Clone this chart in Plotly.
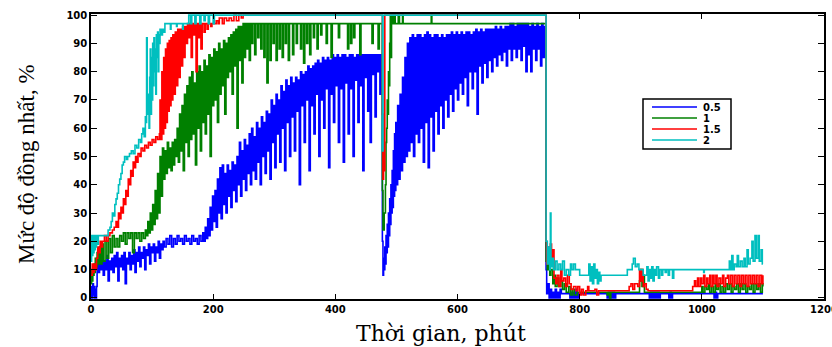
import plotly.graph_objects as go

# ---- data: (minute, %) pairs, step-wise ----
series_names = ["0.5", "1", "1.5", "2"]
series_colors = ["#0000FF", "#008000", "#FF0000", "#00BFBF"]

pts_05 = [
    (0,0),(1,4),(2,0),(3,5),(4,1),(5,4),(6,0),(7,3),(8,0),(9,4),(10,12),(12,9),(14,13),(16,10),(18,14),(20,8),
    (22,13),(24,10),(26,15),(28,6),(30,13),(32,10),(34,14),(36,9),(38,15),(40,11),(42,16),(44,6),(46,14),(48,11),
    (50,15),(52,10),(54,16),(56,5),(58,14),(60,12),(62,16),(64,10),(66,15),(68,12),(70,17),(72,9),(74,16),(76,13),
    (78,18),(80,11),(82,16),(84,14),(86,18),(88,10),(90,17),(92,15),(94,19),(96,12),(98,18),(100,16),(102,19),
    (104,13),(106,18),(108,16),(110,20),(112,14),(114,19),(116,17),(118,20),(120,18),(123,21),(126,19),(129,22),
    (132,18),(135,21),(138,19),(141,22),(144,20),(147,21),(150,19),(153,22),(156,20),(159,21),(162,19),(165,22),
    (168,20),(171,21),(174,19),(177,22),(180,20),(183,23),(185,20),(187,25),(189,21),(191,28),(193,22),(195,32),
    (197,24),(199,36),(201,27),(203,38),(205,25),(207,42),(209,30),(211,46),(213,28),(215,47),(217,33),(219,44),
    (221,30),(223,47),(225,36),(227,45),(229,32),(231,48),(233,38),(235,47),(237,34),(239,50),(241,40),(243,55),
    (245,36),(247,52),(249,42),(251,56),(253,38),(255,54),(257,44),(259,58),(261,40),(263,60),(265,45),(267,57),
    (269,42),(271,62),(273,48),(275,60),(277,40),(279,64),(281,50),(283,62),(285,44),(287,66),(289,52),(291,65),
    (293,42),(295,70),(297,55),(299,68),(301,46),(303,72),(305,58),(307,70),(309,48),(311,75),(313,60),(315,73),
    (317,45),(319,77),(321,62),(323,75),(325,50),(327,78),(329,64),(331,76),(333,52),(335,78),(337,66),(339,77),
    (341,40),(343,80),(345,68),(347,79),(349,55),(351,80),(353,70),(355,82),(357,45),(359,81),(361,68),(363,82),
    (365,58),(367,83),(369,72),(371,84),(373,50),(375,83),(377,70),(379,85),(381,60),(383,84),(385,74),(387,85),
    (389,46),(391,84),(393,72),(395,86),(397,62),(399,85),(401,75),(403,86),(405,55),(407,85),(409,74),(411,86),
    (413,48),(415,86),(417,76),(419,85),(421,58),(423,86),(425,74),(427,86),(429,50),(431,85),(433,77),(435,86),
    (437,62),(439,86),(441,75),(443,86),(445,45),(447,86),(449,78),(451,86),(453,66),(455,86),(457,55),(459,86),
    (461,79),(463,86),(465,64),(467,86),(469,80),(471,86),(473,72),(475,86),(477,20),(478,8),(479,14),(480,10),
    (481,18),(482,12),(483,22),(484,16),(485,26),(486,18),(487,30),(488,22),(489,35),(490,26),(491,40),(492,30),
    (493,45),(494,32),(495,52),(496,36),(497,58),(498,38),(499,62),(500,40),(502,68),(504,42),(506,72),(508,45),
    (510,78),(512,48),(514,85),(516,50),(518,90),(520,52),(522,92),(524,55),(526,93),(528,50),(530,92),(532,58),
    (534,93),(536,55),(538,93),(540,60),(542,92),(544,48),(546,93),(548,62),(550,94),(552,46),(554,93),(556,64),
    (558,92),(560,52),(562,93),(564,66),(566,93),(568,58),(570,92),(572,68),(574,93),(576,60),(578,92),(580,70),
    (582,93),(584,64),(586,93),(588,72),(590,94),(592,66),(594,93),(596,74),(598,94),(600,70),(602,93),(604,76),
    (606,94),(608,72),(610,93),(612,78),(614,94),(616,68),(618,94),(620,80),(622,93),(624,74),(626,94),(628,80),
    (630,95),(632,65),(634,94),(636,82),(638,95),(640,76),(642,94),(644,83),(646,95),(648,78),(650,95),(652,84),
    (654,95),(656,80),(658,95),(660,85),(662,96),(664,82),(666,95),(668,86),(670,96),(672,84),(674,95),(676,87),
    (678,96),(680,82),(682,96),(684,88),(686,97),(688,84),(690,97),(692,88),(694,96),(696,85),(698,97),(700,88),
    (702,97),(704,84),(706,97),(708,89),(710,97),(712,80),(714,97),(716,86),(718,96),(720,80),(722,97),(724,88),
    (726,96),(728,84),(730,97),(732,88),(734,96),(736,82),(738,97),(740,85),(742,96),(744,90),
    (745,10),(746,1.5),(748,5),(750,0),(752,3),(754,0),(756,2),(758,0),(760,3),(762,0),(764,2),(766,0),(768,3),
    (770,1.5),(784,0),(786,2),(788,0),(790,2),(792,0),(794,3),(796,0),(798,1.5),(845,0),(847,2),(849,0),(851,2),
    (853,0),(855,2),(857,0),(859,1.5),(914,0),(916,2),(918,0),(920,2),(922,0),(924,2),(926,0),(928,2),(930,0),
    (932,1.5),(946,0),(948,2),(950,0),(952,1.5),(1020,0),(1022,2),(1024,0),(1026,1.5),(1100,1.5),
]

pts_1 = [
    (0,5),(1,10),(2,6),(3,11),(4,8),(5,12),(6,9),(7,14),(8,11),(10,16),(12,12),(14,18),(16,12),(18,19),(20,13),
    (23,20),(26,14),(29,21),(32,16),(35,22),(38,18),(41,21),(44,18),(47,22),(50,20),(53,23),(56,19),(59,23),
    (62,21),(65,23),(68,16),(71,23),(74,21),(77,23),(80,20),(83,23),(86,21),(89,24),(91,22),(93,27),(95,23),
    (97,30),(99,24),(101,33),(103,26),(105,38),(107,28),(109,44),(111,30),(113,50),(115,36),(117,53),(119,42),
    (121,52),(123,44),(125,55),(127,46),(129,53),(131,45),(133,55),(135,47),(137,56),(139,50),(141,60),(143,48),
    (145,65),(147,52),(149,68),(151,45),(153,72),(155,55),(157,75),(159,50),(161,78),(163,56),(165,80),(167,58),
    (169,76),(171,47),(173,80),(175,60),(177,82),(179,52),(181,80),(183,62),(185,84),(187,58),(189,82),(191,65),
    (193,86),(195,50),(197,85),(199,68),(201,88),(203,70),(205,87),(207,62),(209,90),(211,72),(213,88),(215,75),
    (217,91),(219,65),(221,90),(223,78),(225,92),(227,80),(229,93),(231,72),(233,94),(235,82),(237,95),(239,60),
    (241,96),(243,84),(245,96),(247,76),(249,97),(251,85),(253,97),(255,88),(257,97),(259,84),(261,97),(263,90),
    (265,97),(268,86),(270,97),(273,92),(275,97),(278,88),(280,97),(283,85),(285,97),(288,76),(290,97),(293,84),
    (295,97),(298,90),(300,97),(303,84),(305,97),(308,88),(310,97),(313,85),(315,97),(318,90),(320,97),(323,84),
    (325,97),(330,86),(332,97),(336,90),(338,97),(343,88),(345,97),(348,83),(350,97),(353,90),(355,97),(358,86),
    (360,97),(364,92),(366,97),(370,88),(372,97),(376,93),(378,97),(385,90),(387,97),(393,85),(395,97),(405,92),
    (407,97),(420,88),(422,97),(425,90),(427,97),(430,92),(432,97),(440,86),(442,97),(460,90),(462,97),(470,88),
    (472,97),(477,38),(478,24),(480,30),(482,40),(483,55),(484,60),(485,70),(486,65),(487,80),(488,75),(489,90),
    (490,100),(491,85),(492,100),(494,97),(496,100),(498,97),(503,100),(505,97),(510,100),(511,97),(557,100),
    (558,97),
    (745,13),(747,10),(749,12),(751,8),(753,10),(756,5),(758,8),(760,4),(763,7),(766,4),(769,6),(772,3),(775,5),
    (778,2),(782,4),(785,1),(788,3),(791,1),(796,2),(845,1),(847,2),(849,0),(851,2),(898,6),(900,10),(902,4),
    (904,8),(906,2),(1000,4),(1002,2),(1005,4),(1008,3),(1011,5),(1013,2),(1016,4),(1019,2),(1022,5),(1024,3),
    (1027,5),(1030,2),(1033,4),(1036,2),(1039,5),(1042,3),(1045,5),(1048,2),(1051,4),(1054,3),(1057,5),(1060,2),
    (1063,5),(1066,3),(1069,5),(1072,2),(1075,4),(1078,3),(1081,5),(1084,2),(1087,5),(1090,3),(1093,5),(1096,2),
    (1099,5),(1100,4),
]

pts_15 = [
    (0,8),(2,12),(3,9),(5,12),(7,10),(9,14),(11,18),(13,16),(15,20),(17,18),(19,20),(22,22),(25,20),(28,22),
    (31,23),(35,24),(38,25),(41,27),(43,25),(45,30),(47,28),(49,32),(51,30),(53,35),(55,33),(57,38),(59,36),
    (61,42),(63,40),(65,45),(67,43),(69,48),(71,46),(73,50),(75,48),(77,51),(80,50),(82,53),(85,52),(88,54),
    (91,53),(94,55),(97,54),(100,56),(103,55),(106,57),(109,56),(112,58),(113,70),(114,56),(116,80),(117,58),
    (119,85),(120,60),(122,88),(123,62),(125,90),(126,66),(128,91),(129,68),(131,92),(132,70),(134,93),(136,72),
    (138,94),(140,75),(142,95),(144,78),(146,95),(148,82),(150,96),(152,85),(154,96),(156,90),(158,97),(160,92),
    (162,97),(164,85),(166,97),(168,93),(170,97),(172,80),(174,97),(176,92),(178,97),(180,88),(182,97),(185,94),
    (187,97),(190,95),(192,97),(196,96),(198,97),(205,98),(208,97),(210,99),(215,97),(218,99),(222,98),(226,99),
    (230,98),(234,100),(238,98),(242,100),(246,99),(249,100),(477,65),(478,42),(479,52),(480,45),(481,100),
    (745,20),(746,12),(748,18),(750,15),(752,19),(754,14),(756,17),(758,7),(761,5),(763,8),(766,4),(769,10),
    (771,6),(774,7),(777,4),(780,8),(783,5),(786,3),(790,4),(794,2.5),(797,4),(800,1),(803,3),(806,1),(810,2.5),
    (813,4),(815,2.5),(825,3),(828,1),(831,2.5),(881,4),(884,5),(887,3),(890,5),(895,4),(898,10),(900,6),(902,10),
    (904,4),(906,5),(909,3),(912,2.5),(985,4),(988,6),(990,4),(993,7),(995,4),(998,7),(1000,5),(1003,8),(1005,4),
    (1008,7),(1010,5),(1013,8),(1015,4),(1018,8),(1020,5),(1023,8),(1025,4),(1028,7),(1031,5),(1034,8),(1036,4),
    (1039,7),(1042,8),(1044,5),(1047,8),(1050,4),(1053,8),(1056,5),(1059,8),(1062,4),(1065,8),(1068,5),(1071,8),
    (1074,4),(1077,8),(1080,5),(1083,8),(1086,5),(1089,8),(1092,4),(1095,8),(1098,5),(1100,8),
]

pts_2 = [
    (0,13),(1,22),(2,15),(3,22),(4,16),(5,22),(6,17),(7,22),(8,18),(9,22),(11,19),(12,22),(28,24),(31,25),
    (33,27),(35,30),(37,29),(39,33),(41,35),(43,37),(45,40),(47,42),(49,44),(51,47),(53,48),(55,50),(58,49),
    (60,50),(63,51),(66,52),(69,51),(72,54),(75,53),(78,56),(81,55),(83,58),(85,60),(87,57),(89,64),(90,62),
    (91,92),(92,65),(94,72),(95,60),(96,78),(97,88),(98,65),(99,85),(100,70),(101,90),(102,75),(103,92),(104,80),
    (105,88),(106,72),(107,93),(108,85),(109,94),(110,80),(111,93),(112,90),(113,95),(115,93),(117,95),(119,94),
    (121,97),(130,95),(131,97),(140,96),(141,97),(150,95),(151,97),(160,100),(163,97),(165,100),(170,97),
    (172,100),(178,97),(180,100),(185,98),(187,100),(192,97),(194,100),(200,97),(202,100),(477,52),(478,100),
    (745,20),(747,12),(749,18),(751,10),(752,30),(753,11),(755,14),(757,10),(760,13),(763,10),(766,12),(769,10),
    (772,13),(775,8),(778,10),(782,8),(785,12),(787,10),(790,12),(793,10),(800,8),(815,12),(817,6),(819,11),
    (821,5),(823,12),(825,7),(827,10),(829,5),(831,9),(833,6),(835,8),(878,10),(886,12),(888,14),(891,11),
    (894,12),(897,10),(904,8),(910,11),(912,6),(914,10),(916,7),(918,11),(920,6),(922,10),(924,8),(926,11),
    (929,7),(931,10),(934,8),(936,10),(940,9),(942,10),(945,8),(947,10),(952,7),(954,10),(1003,9),(1004,10),
    (1045,13),(1047,10),(1049,15),(1051,10),(1053,12),(1056,11),(1058,15),(1060,11),(1063,13),(1066,11),
    (1069,14),(1071,11),(1074,17),(1076,12),(1079,14),(1082,20),(1084,13),(1087,22),(1089,14),(1092,22),
    (1094,13),(1097,17),(1099,12),(1100,12),
]

all_series = [pts_05, pts_1, pts_15, pts_2]

x_ticks = [0, 200, 400, 600, 800, 1000, 1200]
y_ticks = [0, 10, 20, 30, 40, 50, 60, 70, 80, 90, 100]

x_title = "Thời gian, phút"
y_title = "Mức độ đồng nhất, %"

# ---- figure ----
W, H = 832, 347
ML, MR, MT, MB = 91, 8, 14, 48
PW, PH = W - ML - MR, H - MT - MB


def px(xp):
    return (xp - ML) / PW


def py(yp):
    return (H - MB - yp) / PH


fig = go.Figure()
for pts, name, col in zip(all_series, series_names, series_colors):
    fig.add_trace(go.Scatter(
        x=[p[0] for p in pts], y=[p[1] for p in pts], name=name, mode="lines",
        line=dict(color=col, width=1.6, shape="hv"), showlegend=False,
    ))

tick_font = dict(family="DejaVu Sans", size=10, color="black", weight="bold")
axis_common = dict(showline=True, linecolor="black", linewidth=1.5, mirror="ticks",
                   ticks="inside", tickcolor="black", showgrid=False, zeroline=False,
                   tickfont=tick_font, ticklabeloverflow="allow", automargin=False)
fig.update_xaxes(range=[0, 1200], tickvals=x_ticks, ticklen=5, **axis_common)
fig.update_yaxes(range=[-0.4, 100.4], tickvals=y_ticks, ticklen=6, **axis_common)

# custom compact legend
lx0, lx1, ly0, ly1 = 643, 731, 99, 149
fig.add_shape(type="rect", xref="paper", yref="paper", x0=px(lx0), x1=px(lx1),
              y0=py(ly1), y1=py(ly0), line=dict(color="black", width=1.5), fillcolor="white")
row_y = [107, 118, 129, 140]
for ry, name, col in zip(row_y, series_names, series_colors):
    fig.add_shape(type="line", xref="paper", yref="paper", x0=px(652), x1=px(697),
                  y0=py(ry), y1=py(ry), line=dict(color=col, width=1.6))
    fig.add_annotation(xref="paper", yref="paper", x=px(701), y=py(ry), text=name,
                       showarrow=False, xanchor="left", yanchor="middle",
                       font=dict(family="DejaVu Sans", size=10, color="black", weight="bold"))

fig.add_annotation(xref="paper", yref="paper", x=px(441), y=py(333), text=x_title,
                   showarrow=False, xanchor="center", yanchor="middle",
                   font=dict(family="DejaVu Serif", size=22, color="black"))
fig.add_annotation(xref="paper", yref="paper", x=px(26), y=py(164), text=y_title,
                   showarrow=False, textangle=-90, xanchor="center", yanchor="middle",
                   font=dict(family="Liberation Serif", size=23, color="black"))

fig.update_layout(width=W, height=H, margin=dict(l=ML, r=MR, t=MT, b=MB, autoexpand=False),
                  paper_bgcolor="white", plot_bgcolor="white", showlegend=False)

fig.write_html("out.html", config={"displayModeBar": False},
               post_script="document.body.style.margin='0';document.body.style.overflow='hidden';")
